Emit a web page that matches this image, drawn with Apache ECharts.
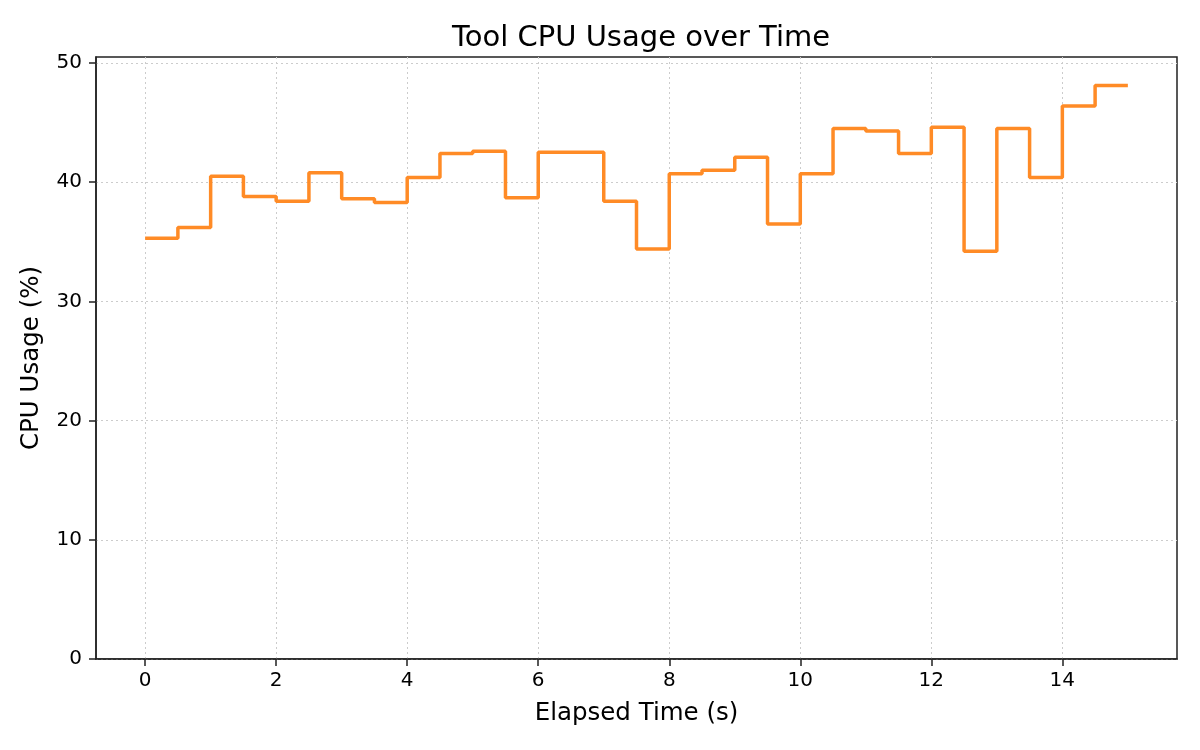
<!DOCTYPE html>
<html>
<head>
<meta charset="utf-8">
<script src="https://cdn.jsdelivr.net/npm/echarts@6/dist/echarts.min.js"></script>
<style>
  html, body { margin: 0; padding: 0; background: #fff; }
  #chart { width: 1200px; height: 750px; }
</style>
</head>
<body>
<div id="chart"></div>
<script>
// elapsed time (s) and cpu usage (%), step plot
var times = [0, 0.5, 1, 1.5, 2, 2.5, 3, 3.5, 4, 4.5, 5, 5.5, 6, 6.5, 7, 7.5,
             8, 8.5, 9, 9.5, 10, 10.5, 11, 11.5, 12, 12.5, 13, 13.5, 14, 14.5, 15];
var cpuUsage = [35.3, 36.2, 40.5, 38.8, 38.4, 40.8, 38.6, 38.3, 40.4, 42.4, 42.6, 38.7, 42.5, 42.5, 38.4, 34.4,
                40.7, 41.0, 42.1, 36.5, 40.7, 44.5, 44.3, 42.4, 44.6, 34.2, 44.5, 40.4, 46.4, 48.1, 48.1];
var xTicks = [0, 2, 4, 6, 8, 10, 12, 14];
var yTicks = [0, 10, 20, 30, 40, 50];

var font = 'DejaVu Sans';
var points = [];
for (var i = 0; i < times.length; i++) {
    points.push([times[i], cpuUsage[i]]);
}

var option = {
    backgroundColor: '#ffffff',
    animation: false,
    title: {
        text: 'Tool CPU Usage over Time',
        left: 636,
        top: 19,
        textAlign: 'center',
        textStyle: { fontFamily: font, fontSize: 29, fontWeight: 'normal', color: '#000' }
    },
    grid: {
        left: 96,
        right: 23,
        top: 57,
        bottom: 91,
        show: true,
        borderColor: '#222',
        borderWidth: 1.5,
        outerBoundsMode: 'none'
    },
    xAxis: {
        type: 'value',
        min: -0.75,
        max: 15.75,
        name: 'Elapsed Time (s)',
        nameLocation: 'middle',
        nameGap: 42,
        nameTextStyle: { fontFamily: font, fontSize: 24.5, color: '#000' },
        axisLine: { show: true, onZero: false, lineStyle: { color: '#222', width: 1.5 } },
        axisTick: { show: true, length: 7, customValues: xTicks, lineStyle: { color: '#222', width: 1.5 } },
        axisLabel: { customValues: xTicks, margin: 12, fontFamily: font, fontSize: 20, color: '#000' },
        splitLine: { show: true, lineStyle: { color: '#cccccc', type: [2, 3], width: 1 } }
    },
    yAxis: {
        type: 'value',
        min: 0,
        max: 50.5,
        name: 'CPU Usage (%)',
        nameLocation: 'middle',
        nameGap: 52,
        nameTextStyle: { fontFamily: font, fontSize: 24.5, color: '#000' },
        axisLine: { show: true, onZero: false, lineStyle: { color: '#222', width: 1.5 } },
        axisTick: { show: true, length: 7, customValues: yTicks, lineStyle: { color: '#222', width: 1.5 } },
        axisLabel: { customValues: yTicks, margin: 14, fontFamily: font, fontSize: 20, color: '#000' },
        splitLine: { show: true, lineStyle: { color: '#cccccc', type: [2, 3], width: 1 } }
    },
    series: [{
        name: 'CPU Usage',
        type: 'line',
        step: 'end',
        showSymbol: false,
        data: points,
        lineStyle: { color: '#ff8b26', width: 3.5 },
        itemStyle: { color: '#ff8b26' }
    }]
};

var chart = echarts.init(document.getElementById('chart'));
chart.setOption(option);
</script>
</body>
</html>
